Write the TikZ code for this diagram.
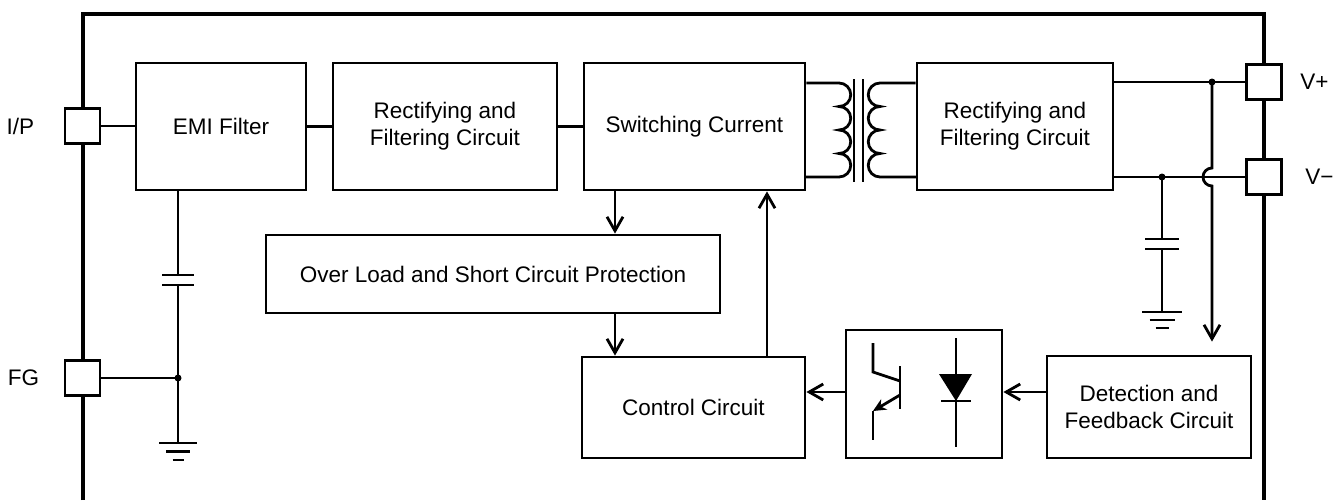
\documentclass[tikz,border=0pt]{standalone}
\usepackage{fontspec}
\setmainfont{Liberation Sans}
\usetikzlibrary{arrows.meta,calc,positioning}

\tikzset{
    blk/.style={draw, align=center, inner sep=0pt},
    term/.style={draw, fill=white, minimum size=17.5pt, inner sep=0pt},
    arr/.style={-{Straight Barb[length=7pt,width=8pt]}},
}

\begin{document}
\begin{tikzpicture}[x=0.5pt, y=-0.5pt, line width=1.4pt, font=\fontsize{11.25pt}{13.5pt}\selectfont]
    \useasboundingbox (0,0) rectangle (1341,500);

    % housing
    \draw[line width=2.3pt] (83,500) -- (83,14) -- (1264,14) -- (1264,500);

    % blocks
    \node[blk, minimum width=85pt, minimum height=63.5pt] (emi) at (221,126.5) {EMI Filter};
    \node[blk, minimum width=112pt, minimum height=63.5pt] (rectin) at (445,126.5) {Rectifying and\\Filtering Circuit};
    \node[blk, minimum width=110.5pt, minimum height=63.5pt] (swc) at (694.5,126.5) {Switching Current};
    \node[blk, minimum width=98pt, minimum height=63.5pt] (rectout) at (1015,126.5) {Rectifying and\\Filtering Circuit};
    \node[blk, minimum width=227pt, minimum height=39pt] (olp) at (493,274) {Over Load and Short Circuit Protection};
    \node[blk, minimum width=111.5pt, minimum height=50.5pt] (ctrl) at (693.5,407.5) {Control Circuit};
    \node[blk, minimum width=78pt, minimum height=64pt] (opto) at (924,394) {};
    \node[blk, minimum width=102pt, minimum height=51pt] (fb) at (1149,407) {Detection and\\Feedback Circuit};

    % terminals
    \node[term] (ip) at (82.5,126) {};
    \node[term] (fg) at (82.5,378) {};
    \node[term] (vp) at (1264,82) {};
    \node[term] (vm) at (1264,177) {};
    \node[left=14pt of ip, inner sep=0pt] (iplbl) {I/P};
    \node[left=11.5pt of fg, inner sep=0pt] (fglbl) {FG};
    \node[right=8pt of vp, inner sep=0pt] (vplbl) {V+};
    \node[right=10.5pt of vm, inner sep=0pt] (vmlbl) {V−};

    % input chain
    \draw (ip.east) -- (emi.west |- ip);
    \draw (emi.east) -- (rectin.west);
    \draw (rectin.east) -- (swc.west);

    % transformer
    \coordinate (tp) at (839,83);
    \coordinate (ts) at (880,83);
    \draw (swc.east |- tp) -- (tp)
        \foreach \i in {1,...,4} {arc[start angle=-90, end angle=90, radius=11.75]} -- ++(-34,0);
    \draw (rectout.west |- ts) -- (ts)
        \foreach \i in {1,...,4} {arc[start angle=-90, end angle=-270, radius=11.75]} -- ++(37,0);
    \draw (854,79) -- (854,182);
    \draw (863,79) -- (863,182);

    % Y capacitor to FG
    \coordinate (cl) at (178,280);
    \coordinate (gl) at (178,443);
    \draw (emi.south -| cl) -- ($(cl)+(0,-5)$);
    \draw ($(cl)+(-16,-5)$) -- ++(32,0);
    \draw ($(cl)+(-16,5)$) -- ++(32,0);
    \draw ($(cl)+(0,5)$) -- (gl);
    \draw (fg.east) -- (fg -| cl);
    \fill (fg -| cl) circle[radius=3.5];
    \foreach \dy/\w in {0/19, 8.5/12, 17/5.5}
        \draw ($(gl)+(-\w,\dy)$) -- ++(2*\w,0);

    % output
    \coordinate (jx) at (1212,0);
    \coordinate (cr) at (1162,244);
    \coordinate (gr) at (1162,312);
    \draw (rectout.east |- vp) -- (vp.west);
    \draw (rectout.east |- vm) -- (vm.west);
    \fill (vp -| jx) circle[radius=3.5];
    \fill (vm -| cr) circle[radius=3.5];
    \draw (vm -| cr) -- ($(cr)+(0,-5)$);
    \draw ($(cr)+(-17,-5)$) -- ++(34,0);
    \draw ($(cr)+(-17,5)$) -- ++(34,0);
    \draw ($(cr)+(0,5)$) -- (gr);
    \foreach \dy/\w in {0/20, 8/12.5, 16/6.5}
        \draw ($(gr)+(-\w,\dy)$) -- ++(2*\w,0);
    \draw[arr, shorten >=6.5pt] (vp -| jx) -- ($(vm -| jx)+(0,-9)$)
        arc[start angle=-90, end angle=-270, radius=9] -- (fb.north -| jx);

    % control loop
    \coordinate (ax) at (615,0);
    \coordinate (bx) at (767,0);
    \coordinate (fy) at (0,392);
    \draw[arr] (swc.south -| ax) -- (olp.north -| ax);
    \draw[arr] (olp.south -| ax) -- (ctrl.north -| ax);
    \draw[arr] (ctrl.north -| bx) -- (swc.south -| bx);
    \draw[arr] (fb.west |- fy) -- (opto.east |- fy);
    \draw[arr] (opto.west |- fy) -- (ctrl.east |- fy);

    % optocoupler
    \draw (900,366) -- (900,409);
    \draw (873,343) -- (873,372) -- (900,381);
    \draw[-{Stealth[length=6.5pt,width=6pt]}] (900,395) -- (873,411);
    \draw (873,411) -- (873,440);
    \draw (956,338) -- (956,447);
    \fill (939,374) -- (972,374) -- (956,401) -- cycle;
    \draw (941,401) -- (971,401);
\end{tikzpicture}
\end{document}
